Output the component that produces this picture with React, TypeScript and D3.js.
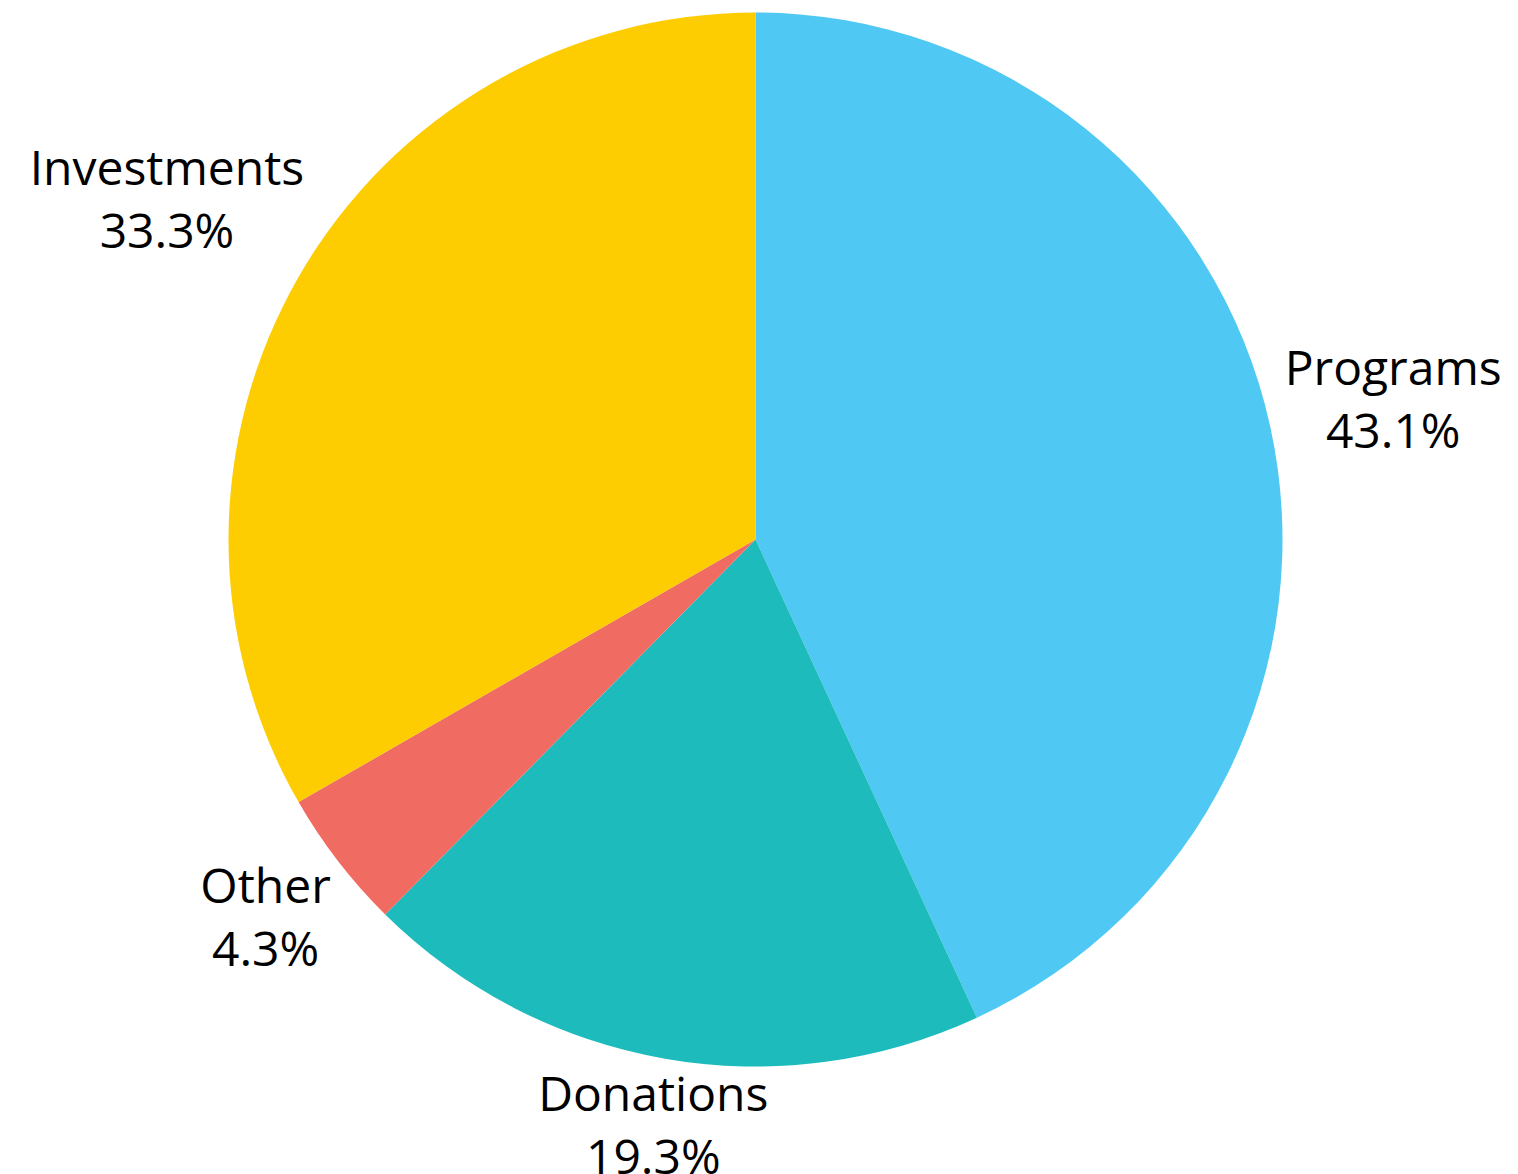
import React from "react";
import * as d3 from "d3";

const categories = ["Programs", "Donations", "Other", "Investments"];
const values = [43.1, 19.3, 4.3, 33.3];
const colors = ["#4FC8F3", "#1DBBBC", "#F06B61", "#FDCD01"];

const W = 1518;
const H = 1174;
const CX = 755.5;
const CY = 539.5;
const R = 527;
const FONT = "'Open Sans', Lato, sans-serif";
const FS = 48;
const CAP = FS * 0.714;
const LINE = 63;
const GAP = 10;

function measure(text: string): number {
  const c = document.createElement("canvas");
  const ctx = c.getContext("2d")!;
  ctx.font = `${FS}px 'Open Sans'`;
  return ctx.measureText(text).width;
}

export default function App() {
  const data = categories.map((c, i) => ({ name: c, value: values[i], color: colors[i] }));
  const pie = d3.pie<any>().sort(null).value((d) => d.value).startAngle(0).endAngle(2 * Math.PI);
  const arcs = pie(data);
  const arc = d3.arc<any>().innerRadius(0).outerRadius(R);

  const labels = arcs.map((a) => {
    const mid = (a.startAngle + a.endAngle) / 2;
    const ux = Math.sin(mid);
    const uy = -Math.cos(mid);
    const l1 = a.data.name;
    const l2 = `${a.data.value.toFixed(1)}%`;
    const w = Math.max(measure(l1), measure(l2));
    const h = CAP + LINE;
    const hw = w / 2;
    const hh = h / 2;
    let t = R;
    for (; t < R + 400; t += 0.5) {
      const cx = t * ux;
      const cy = t * uy;
      const dx = Math.max(0, Math.abs(cx) - hw);
      const dy = Math.max(0, Math.abs(cy) - hh);
      if (Math.sqrt(dx * dx + dy * dy) >= R + GAP) break;
    }
    const x = CX + t * ux;
    const y = CY + t * uy;
    return { x, y1: y - hh + CAP, y2: y - hh + CAP + LINE, l1, l2 };
  });

  return (
    <svg
      width={W}
      height={H}
      style={{ position: "absolute", left: 0, top: 0, background: "#fff" }}
    >
      <g transform={`translate(${CX},${CY})`}>
        {arcs.map((a, i) => (
          <path key={i} d={arc(a) as string} fill={a.data.color} />
        ))}
      </g>
      {labels.map((l, i) => (
        <g key={i} fontFamily={FONT} fontSize={FS} fill="#000" textAnchor="middle">
          <text x={l.x} y={l.y1}>{l.l1}</text>
          <text x={l.x} y={l.y2}>{l.l2}</text>
        </g>
      ))}
    </svg>
  );
}
